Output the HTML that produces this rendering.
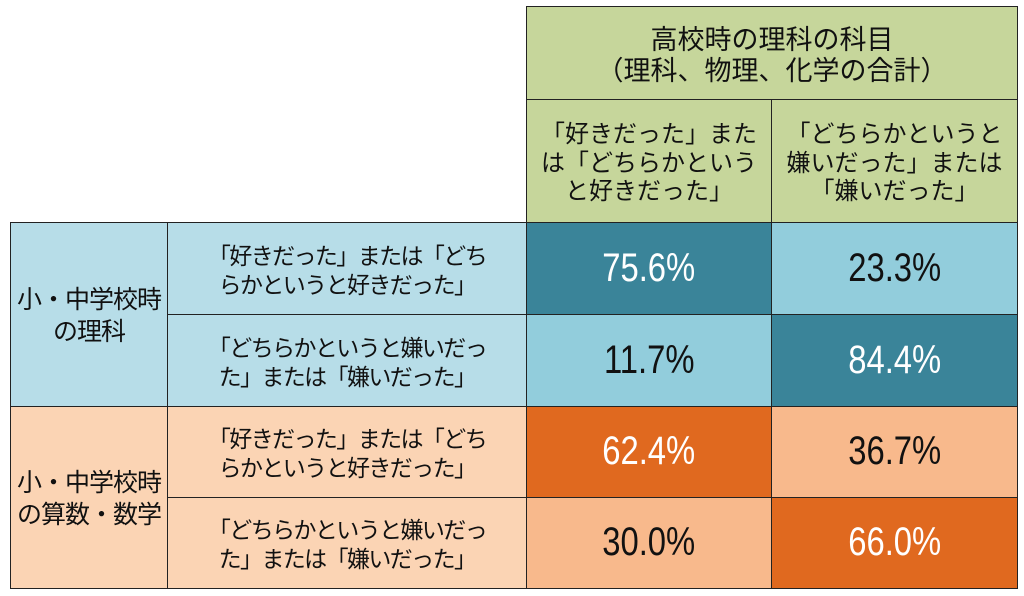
<!DOCTYPE html>
<html><head><meta charset="utf-8">
<style>
body{margin:0;width:1024px;height:596px;background:#fff;position:relative;overflow:hidden;font-family:"Liberation Sans","Noto Sans CJK JP",sans-serif;}
.c{position:absolute;box-sizing:border-box;display:flex;align-items:center;justify-content:center;text-align:center;color:#111;border:1px solid #222;line-height:1.18;}
.t{font-size:27px;font-family:"Noto Sans CJK JP",sans-serif;line-height:1.15;}
.h{font-size:24px;font-family:"Noto Sans CJK JP",sans-serif;line-height:1.2;}
.r{font-size:23px;font-family:"Noto Sans CJK JP",sans-serif;letter-spacing:-1.6px;line-height:1.25;}
.g{font-size:25px;font-family:"Noto Sans CJK JP",sans-serif;letter-spacing:-1px;line-height:1.25;}
.v{font-size:40px;}
.v span{display:inline-block;transform:scaleX(0.82);}
</style></head><body>
<div id="root"></div>
<script>
const groups=["小・中学校時<br>の理科","小・中学校時<br>の算数・数学"];
const rowLabels=["「好きだった」または「どち<br>らかというと好きだった」","「どちらかというと嫌いだっ<br>た」または「嫌いだった」"];
const colLabels=["「好きだった」また<br>は「どちらかという<br>と好きだった」","「どちらかというと<br>嫌いだった」または<br>「嫌いだった」"];
const values=[75.6,23.3,11.7,84.4,62.4,36.7,30.0,66.0];
const root=document.getElementById('root');
function cell(x,y,w,h,html,bg,cls,name,color){
 const d=document.createElement('div');
 d.className='c '+cls;
 d.style.left=x+'px';d.style.top=y+'px';d.style.width=w+'px';d.style.height=h+'px';
 d.style.background=bg;if(color)d.style.color=color;
 d.innerHTML=html;
 
 
 root.appendChild(d);
}
cell(526,6,492,94,"高校時の理科の科目<br>（理科、物理、化学の合計）","#c6d69b","t","header-title");
const colX=[526,771],colW=[246,247];
colLabels.forEach((t,i)=>cell(colX[i],99,colW[i],124,t,"#c6d69b","h","column-header-"+(i+1)));
const rowY=[222,314,406,497],rowH=[93,93,92,92];
const groupBg=["#b7dde8","#fbd4b4"];
const darkBg=["#3a8499","#e0691f"],lightBg=["#92cddc","#f8b98c"];
groups.forEach((g,gi)=>{
 cell(10,rowY[gi*2],158,rowH[gi*2]+rowH[gi*2+1]-1,g,groupBg[gi],"g","group-label-"+(gi+1));
 for(let r=0;r<2;r++){
  const ri=gi*2+r;
  cell(167,rowY[ri],360,rowH[ri],rowLabels[r],groupBg[gi],"r","row-label-"+(ri+1));
  for(let c=0;c<2;c++){
   const v=values[ri*2+c];
   const dark=(r===c);
   cell(colX[c],rowY[ri],colW[c],rowH[ri],"<span>"+v.toFixed(1)+"%</span>",dark?darkBg[gi]:lightBg[gi],"v","value-cell-r"+(ri+1)+"-c"+(c+1),dark?"#fff":"#111");
  }
 }
});
</script>
</body></html>
